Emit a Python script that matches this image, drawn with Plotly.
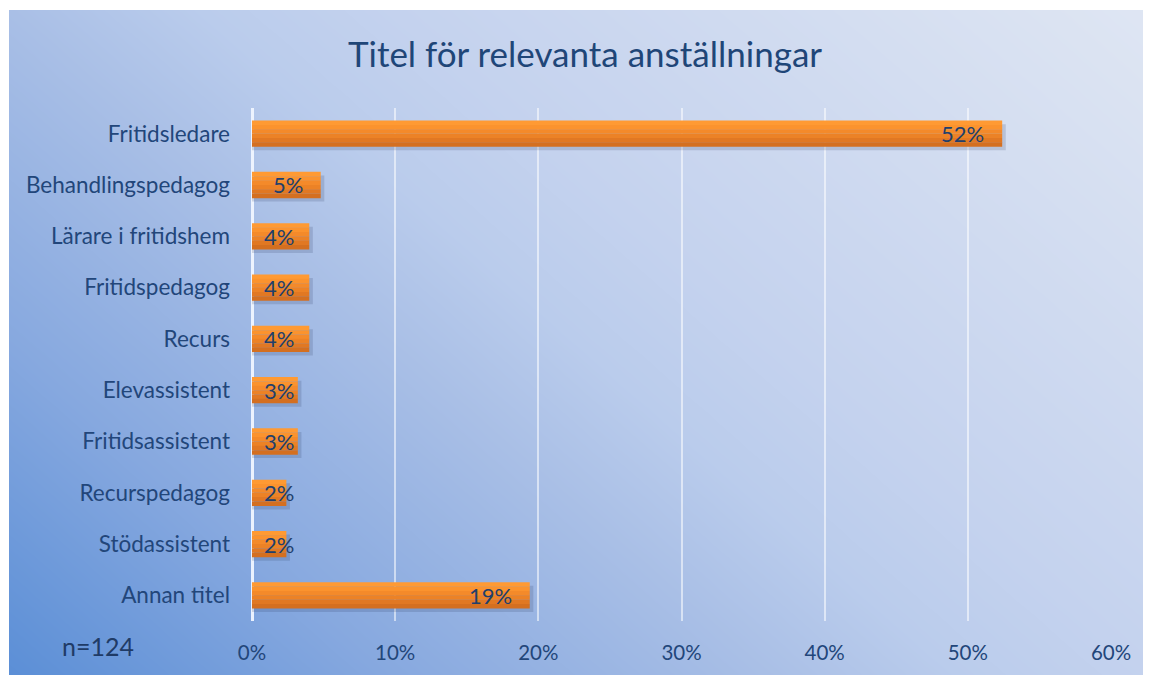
import numpy as np
import plotly.graph_objects as go

# ---- data ----
categories = ["Fritidsledare", "Behandlingspedagog", "Lärare i fritidshem", "Fritidspedagog",
              "Recurs", "Elevassistent", "Fritidsassistent", "Recurspedagog", "Stödassistent",
              "Annan titel"]
percent = [52.4, 4.8, 4.0, 4.0, 4.0, 3.2, 3.2, 2.4, 2.4, 19.4]
labels = [f"{round(v)}%" for v in percent]
x_ticks = [0, 10, 20, 30, 40, 50, 60]
x_tick_labels = [f"{t}%" for t in x_ticks]
title_text = "Titel för relevanta anställningar"
n_text = "n=124"

W, H = 1151, 675
FONT = "Lato"
TXT = "#22467A"

fig = go.Figure()

# ---- background gradient (style only) ----
gx = np.linspace(0, 1, 80)
gy = np.linspace(0, 1, 50)
GX, GY = np.meshgrid(gx, gy)
gz = 0.6 * GX + 0.4 * GY
fig.add_trace(go.Heatmap(
    x=gx, y=gy, z=gz, zmin=0, zmax=1, showscale=False, hoverinfo="skip",
    colorscale=[[0, "#5A8ED6"], [0.2, "#86A8DF"], [0.4, "#A9BFE6"], [0.5, "#BACCEC"],
                [0.6, "#C4D2EE"], [1, "#DFE6F3"]],
    xaxis="x", yaxis="y", zsmooth="best"))

# ---- bars ----
bar_w = 0.51
# shadow
fig.add_trace(go.Bar(
    y=categories, x=[v + 0.25 for v in percent], orientation="h",
    width=bar_w, offset=-bar_w / 2 + 0.07,
    marker=dict(color="rgba(30,45,80,0.16)", line=dict(width=0)),
    hoverinfo="skip", xaxis="x2", yaxis="y2", showlegend=False))

band_colors = ["#FF9A33", "#FB932E", "#F48A2A", "#EC8226", "#E17823", "#D46F20"]
nb = len(band_colors)
for i, c in enumerate(band_colors):
    fig.add_trace(go.Bar(
        y=categories, x=percent, orientation="h",
        width=bar_w / nb + 0.002, offset=-bar_w / 2 + i * bar_w / nb,
        marker=dict(color=c, line=dict(width=0)),
        hoverinfo="skip" if i else "x+y", xaxis="x2", yaxis="y2", showlegend=False))

# ---- data labels ----
annotations = []
for cat, v, lab in zip(categories, percent, labels):
    annotations.append(dict(
        x=max(v, 4.2), y=cat, xref="x2", yref="y2", text=lab, showarrow=False,
        xanchor="right", xshift=-16, yanchor="middle",
        font=dict(family=FONT, size=22, color="#213F6C")))

annotations.append(dict(
    x=52 / W, y=(H - 638) / H, xref="paper", yref="paper", text=n_text, showarrow=False,
    xanchor="left", yanchor="middle", font=dict(family=FONT, size=25, color="#1F3B66")))

fig.update_layout(
    width=W, height=H,
    margin=dict(l=0, r=0, t=0, b=0, autoexpand=False),
    paper_bgcolor="white", plot_bgcolor="rgba(0,0,0,0)",
    barmode="overlay", bargap=0.49,
    showlegend=False,
    title=dict(text=title_text, x=577 / W, xanchor="center", y=(H - 47) / H, yanchor="middle",
               font=dict(family=FONT, size=35, color="#1F4678")),
    xaxis=dict(domain=[1 / W, 1], range=[0, 1], visible=False, fixedrange=True,
               automargin=False),
    yaxis=dict(domain=[0, 1 - 2 / H], range=[0, 1], visible=False, fixedrange=True,
               automargin=False),
    xaxis2=dict(domain=[244 / W, 1103 / W], range=[0, 60], anchor="y2", automargin=False,
                tickvals=x_ticks, ticktext=x_tick_labels,
                showgrid=True, gridcolor="rgba(255,255,255,0.55)", gridwidth=1.5,
                zeroline=True, zerolinecolor="rgba(240,246,255,0.95)", zerolinewidth=2.5,
                showline=False, ticks="", ticklabelstandoff=17,
                tickfont=dict(family=FONT, size=20.5, color=TXT)),
    yaxis2=dict(domain=[62 / H, 575 / H], anchor="x2", autorange="reversed", automargin=False,
                type="category", showgrid=False, zeroline=False, showline=False,
                ticks="", ticklabelstandoff=21,
                tickfont=dict(family=FONT, size=22.5, color=TXT)),
    annotations=annotations,
    font=dict(family=FONT, color=TXT),
)

fig.write_html("out.html")
